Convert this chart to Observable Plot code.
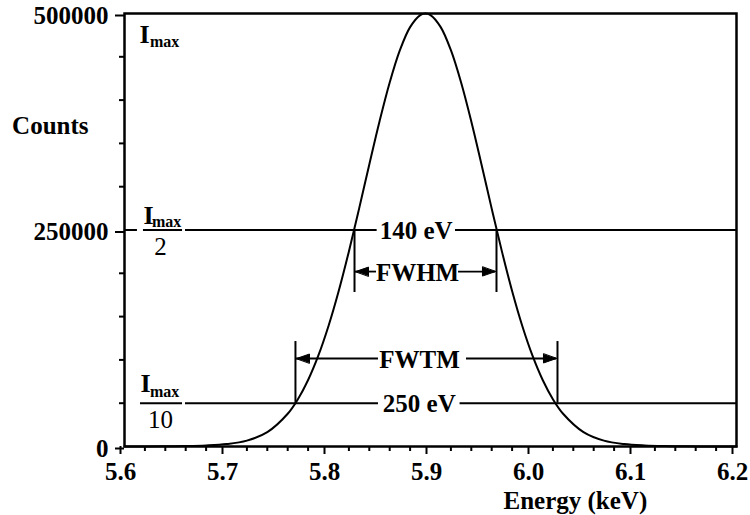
<!DOCTYPE html>
<html><head><meta charset="utf-8">
<script src="https://cdn.jsdelivr.net/npm/d3@7"></script>
<script src="https://cdn.jsdelivr.net/npm/@observablehq/plot@0.6"></script>
<style>body{margin:0;background:#fff} svg text{font-family:"Liberation Serif","DejaVu Serif",serif}</style>
</head><body><div id="chart"></div>
<script>
// Spectrum
const energy = [5.60, 5.62, 5.64, 5.66, 5.68, 5.70, 5.72, 5.74, 5.76, 5.77, 5.78, 5.79, 5.80, 5.81, 5.82, 5.83, 5.84, 5.85, 5.86, 5.87, 5.88, 5.89, 5.895, 5.90, 5.91, 5.92, 5.93, 5.94, 5.95, 5.96, 5.97, 5.98, 5.99, 6.00, 6.01, 6.02, 6.03, 6.05, 6.07, 6.09, 6.11, 6.13, 6.15, 6.18, 6.20];
const counts = [0, 0, 200, 500, 1200, 2800, 6800, 16600, 37800, 54600, 76800, 104900, 139200, 179600, 225300, 274700, 325700, 375300, 420300, 457600, 484300, 498200, 500000, 498200, 484300, 457600, 420300, 375300, 325700, 274700, 225300, 179600, 139200, 104900, 76800, 54600, 37800, 16600, 6800, 2800, 1200, 500, 200, 0, 0];

// Ticks
const xMajorTicks = [5.6, 5.7, 5.8, 5.9, 6.0, 6.1, 6.2];
const xMinorTicks = [5.62, 5.64, 5.66, 5.68, 5.72, 5.74, 5.76, 5.78, 5.82, 5.84, 5.86, 5.88, 5.92, 5.94, 5.96, 5.98, 6.02, 6.04, 6.06, 6.08, 6.12, 6.14, 6.16, 6.18];
const yMajorTicks = [0, 250000, 500000];
const yMinorTicks = [50000, 100000, 150000, 200000, 300000, 350000, 400000, 450000];

// Level lines (half max, tenth max), split around labels
const levelY  = [250000, 250000, 250000, 250000, 50000, 50000, 50000];
const levelX1 = [5.600, 5.6186, 5.6598, 5.9245, 5.6157, 5.6598, 5.929];
const levelX2 = [5.6127, 5.6569, 5.8477, 6.200, 5.6569, 5.849, 6.200];

// Width labels on the level lines
const widthText = ["140 eV", "250 eV"];
const widthX = [5.886, 5.889];
const widthY = [250000, 50000];

// Vertical bars marking the widths
const barX  = [5.8255, 5.9647, 5.7676, 6.0245];
const barY1 = [250000, 250000, 50000, 50000];
const barY2 = [177800, 177800, 121200, 121200];

// Arrow shafts and heads
const arrowTipX  = [5.8265, 5.9637, 5.7686, 6.0235];
const arrowTailX = [5.8471, 5.9275, 5.8490, 5.9353];
const arrowY     = [202000, 202000, 101600, 101600];
const arrowRot   = [90, -90, 90, -90];

// Width names
const nameText = ["FWHM", "FWTM"];
const nameX = [5.8873, 5.8892];
const nameY = [202000, 101600];

// I_max labels: big "I", subscript "max", denominators
const iX = [5.6147, 5.6186, 5.6157];
const iY = [466500, 257500, 62400];
const maxX = [5.6250, 5.6270, 5.6250];
const maxY = [460800, 254000, 57700];
const denomText = ["2", "10"];
const denomX = [5.6353, 5.6353];
const denomY = [220600, 20800];

// Axis titles
const xTitle = "Energy (keV)";
const xTitleAt = 6.042;
const yTitle = "Counts";
const yTitleAt = 361400;

const spectrum = energy.map((e, i) => ({e, c: counts[i]}));
const levels = levelY.map((y, i) => ({y, x1: levelX1[i], x2: levelX2[i]}));
const widths = widthText.map((t, i) => ({t, x: widthX[i], y: widthY[i]}));
const bars = barX.map((x, i) => ({x, y1: barY1[i], y2: barY2[i]}));
const arrows = arrowTipX.map((x, i) => ({tip: x, tail: arrowTailX[i], y: arrowY[i], rot: arrowRot[i]}));
const names = nameText.map((t, i) => ({t, x: nameX[i], y: nameY[i]}));
const iLabels = iX.map((x, i) => ({x, y: iY[i]}));
const maxLabels = maxX.map((x, i) => ({x, y: maxY[i]}));
const denoms = denomText.map((t, i) => ({t, x: denomX[i], y: denomY[i]}));

const head = {
  draw(context, l, r) {
    context.moveTo(0, 0);
    context.lineTo(-r, -l);
    context.lineTo(r, -l);
    context.closePath();
  }
};

const font = "Liberation Serif";

const chart = Plot.plot({
  width: 750,
  height: 515,
  marginLeft: 124,
  marginRight: 14,
  marginTop: 13,
  marginBottom: 69,
  style: {fontFamily: "'Liberation Serif', serif", fontWeight: "bold", fontSize: "25px", color: "black", background: "white", overflow: "visible"},
  x: {domain: [5.6, 6.2], label: null},
  y: {domain: [0, 500000], label: null},
  marks: [
    Plot.axisX(xMinorTicks, {tickSize: 5, strokeWidth: 2, fill: "none", label: null}),
    Plot.axisX(xMajorTicks, {tickSize: 8, strokeWidth: 2, tickPadding: 8, tickFormat: d3.format(".1f"), dx: -4, fontFamily: font, label: null}),
    Plot.axisY(yMinorTicks, {tickSize: 5, strokeWidth: 2, fill: "none", label: null}),
    Plot.axisY(yMajorTicks, {tickSize: 9, strokeWidth: 2, tickPadding: 7, tickFormat: d => String(d), dy: 2, fontFamily: font, label: null}),
    Plot.frame({strokeWidth: 2.5}),
    Plot.ruleY(levels, {y: "y", x1: "x1", x2: "x2", strokeWidth: 2}),
    Plot.ruleX(bars, {x: "x", y1: "y1", y2: "y2", strokeWidth: 2}),
    Plot.ruleY(arrows, {y: "y", x1: "tip", x2: "tail", strokeWidth: 1.8}),
    Plot.vector(arrows, {x: "tip", y: "y", rotate: "rot", length: 13, r: 4.5, anchor: "start", shape: head, fill: "black", stroke: "black", strokeWidth: 1}),
    Plot.line(spectrum, {x: "e", y: "c", curve: "catmull-rom", strokeWidth: 2, stroke: "black"}),
    Plot.text(widths, {x: "x", y: "y", text: "t", fontSize: 25, fontFamily: font, lineAnchor: "middle", dy: 1}),
    Plot.text(names, {x: "x", y: "y", text: "t", fontSize: 25, fontFamily: font, lineAnchor: "middle", dy: 1}),
    Plot.text(iLabels, {x: "x", y: "y", text: () => "I", fontSize: 26, fontFamily: font, textAnchor: "start", lineAnchor: "bottom"}),
    Plot.text(maxLabels, {x: "x", y: "y", text: () => "max", fontSize: 16, fontFamily: font, textAnchor: "start", lineAnchor: "bottom"}),
    Plot.text(denoms, {x: "x", y: "y", text: "t", fontSize: 25, fontFamily: font, lineAnchor: "bottom", fontWeight: "normal"}),
    Plot.text([xTitle], {x: () => xTitleAt, frameAnchor: "bottom", dy: 62, text: d => d, fontSize: 25, fontFamily: font, lineAnchor: "bottom"}),
    Plot.text([yTitle], {y: () => yTitleAt, frameAnchor: "left", dx: -36, text: d => d, fontSize: 25, fontFamily: font, textAnchor: "end", lineAnchor: "bottom"})
  ]
});
document.getElementById("chart").appendChild(chart);
</script>
</body></html>
